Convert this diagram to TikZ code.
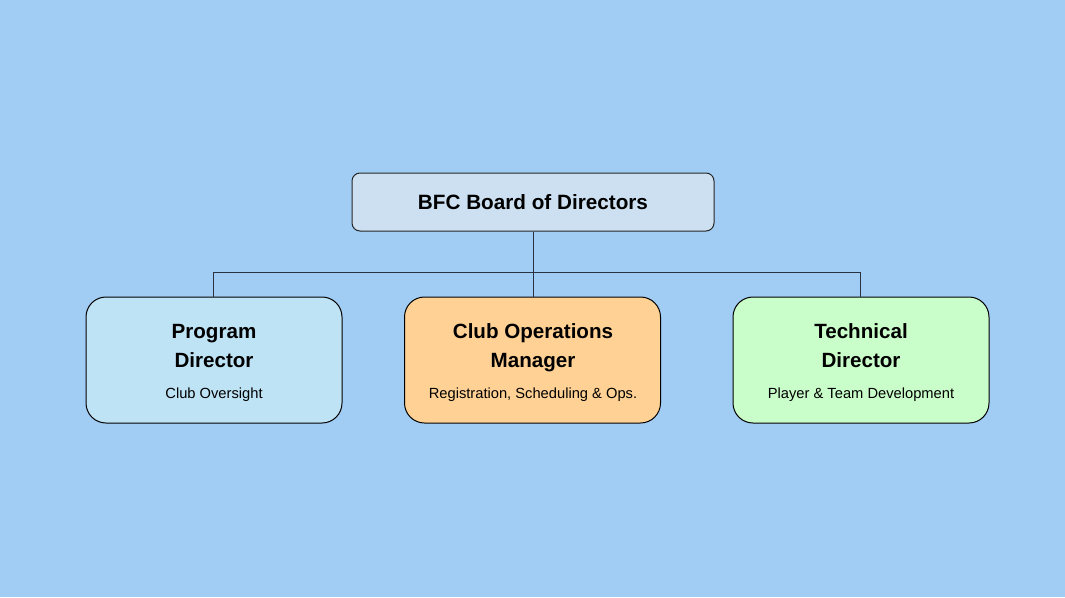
\documentclass[tikz,border=0pt]{standalone}
\usepackage{fontspec}
\setmainfont{Liberation Sans}
\definecolor{bgc}{RGB}{161,205,245}
\definecolor{topc}{RGB}{204,224,241}
\definecolor{leftc}{RGB}{190,227,245}
\definecolor{midc}{RGB}{255,209,148}
\definecolor{rightc}{RGB}{201,253,201}
\definecolor{linec}{RGB}{40,50,65}
\begin{document}
\begin{tikzpicture}[x=1pt,y=-1pt,
  box/.style={draw=black,line width=1pt,rounded corners=20pt,minimum width=256pt,minimum height=126pt,inner sep=0pt},
  topbox/.style={draw=black!85,line width=1pt,rounded corners=8pt,minimum width=362pt,minimum height=58pt,inner sep=0pt,font=\fontsize{20.7}{24}\selectfont\bfseries},
  ttl/.style={anchor=base,inner sep=0pt,font=\fontsize{20.6}{24}\selectfont\bfseries},
  sub/.style={anchor=base,inner sep=0pt,font=\fontsize{14.7}{17}\selectfont},
  conn/.style={draw=linec,line width=1pt}]
\fill[bgc] (0,0) rectangle (1065,597);
\useasboundingbox (0,0) rectangle (1065,597);
\node[topbox,fill=topc] (top) at (533,202) {BFC Board of Directors};
\node[box,fill=leftc] (pd) at (214,360) {};
\node[box,fill=midc] (com) at (532.5,360) {};
\node[box,fill=rightc] (td) at (861,360) {};
\node[ttl] (pd1) at (214,338) {Program};
\node[ttl] (pd2) at (214,367) {Director};
\node[sub] (pd3) at (214,398) {Club Oversight};
\node[ttl] (com1) at (533,338) {Club Operations};
\node[ttl] (com2) at (533,367) {Manager};
\node[sub] (com3) at (533,398) {Registration, Scheduling \& Ops.};
\node[ttl] (td1) at (861,338) {Technical};
\node[ttl] (td2) at (861,367) {Director};
\node[sub] (td3) at (861,398) {Player \& Team Development};
\coordinate (busL) at (213.5,272);
\coordinate (busR) at (860.5,272);
\draw[conn] (top.south) -- (top.south |- com.north);
\draw[conn] (pd.north -| busL) -- (busL) -- (busR) -- (td.north -| busR);
\end{tikzpicture}
\end{document}
